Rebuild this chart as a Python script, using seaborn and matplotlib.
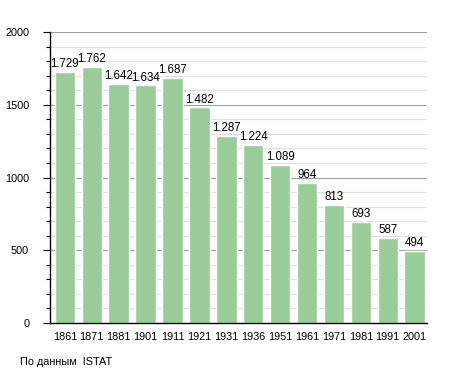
import matplotlib
matplotlib.use("Agg")
import matplotlib.pyplot as plt
import seaborn as sns
import pandas as pd
from matplotlib.ticker import MultipleLocator

years = ["1861", "1871", "1881", "1901", "1911", "1921", "1931",
         "1936", "1951", "1961", "1971", "1981", "1991", "2001"]
population = [1729, 1762, 1642, 1634, 1687, 1482, 1287,
              1224, 1089, 964, 813, 693, 587, 494]
labels = ["1.729", "1.762", "1.642", "1.634", "1.687", "1.482", "1.287",
          "1.224", "1.089", "964", "813", "693", "587", "494"]

df = pd.DataFrame({"year": years, "pop": population})

sns.set_style("white")
plt.rcParams["font.family"] = ["Liberation Sans", "DejaVu Sans"]
plt.rcParams["text.color"] = "black"
plt.rcParams["xtick.color"] = "black"
plt.rcParams["ytick.color"] = "black"

fig = plt.figure(figsize=(4.55, 3.73), dpi=100)
ax = fig.add_axes([0.110, 0.134, 0.828, 0.780])

# grid: light every 100, darker every 500
for v in range(100, 2001, 100):
    col = "#a0a0a0" if v % 500 == 0 else "#e0e0e0"
    ax.axhline(v, color=col, lw=0.8, zorder=0)

sns.barplot(data=df, x="year", y="pop", color="#99cc99", saturation=1,
            width=0.76, ax=ax, zorder=2)

for i, (v, t) in enumerate(zip(population, labels)):
    ax.text(i, v + 12, t, ha="center", va="bottom", fontsize=8.3, zorder=3)

ax.set_xlim(-0.55, 13.45)
ax.set_ylim(0, 2000)
ax.yaxis.set_major_locator(MultipleLocator(500))
ax.yaxis.set_minor_locator(MultipleLocator(100))
ax.tick_params(axis="y", which="major", left=True, length=5, width=0.8,
               labelsize=7.8, pad=10)
ax.tick_params(axis="y", which="minor", left=True, length=3, width=0.8)
ax.tick_params(axis="x", bottom=False, labelsize=7.8, pad=3)
ax.set_xlabel("")
ax.set_ylabel("")

for s in ["top", "right"]:
    ax.spines[s].set_visible(False)
ax.spines["left"].set_linewidth(1.0)
ax.spines["bottom"].set_linewidth(1.0)
ax.spines["left"].set_color("black")
ax.spines["bottom"].set_color("black")

fig.text(20 / 455, 1 - 362 / 373, "По данным  ISTAT", fontsize=7.8,
         va="center", ha="left")

fig.savefig("out.png", dpi=100)
